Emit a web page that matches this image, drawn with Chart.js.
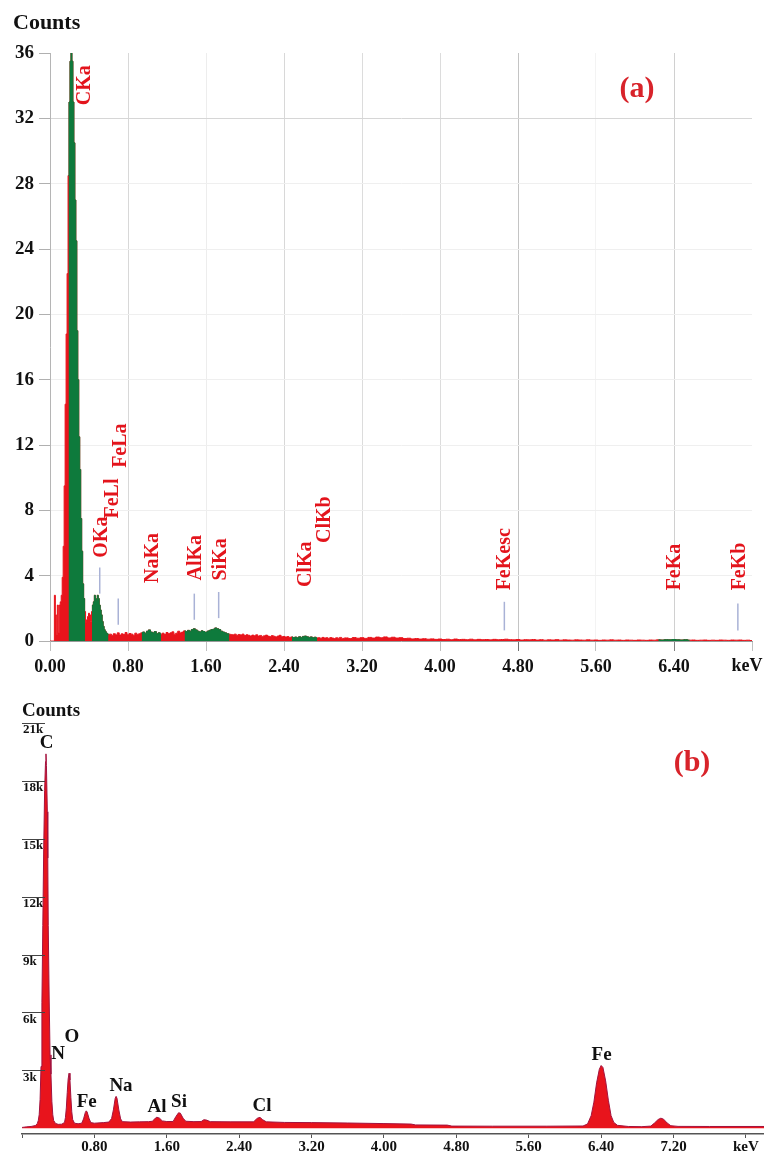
<!DOCTYPE html>
<html><head><meta charset="utf-8">
<script src="https://cdn.jsdelivr.net/npm/chart.js@4.4.1/dist/chart.umd.min.js"></script>
<style>
html,body{margin:0;padding:0;background:#fff;}
#wrapA{position:absolute;left:0;top:0;width:764px;height:690px;}
#wrapB{position:absolute;left:0;top:690px;width:764px;height:464px;}
</style></head><body>
<div id="wrapA"><canvas id="chartA"></canvas></div>
<div id="wrapB"><canvas id="chartB"></canvas></div>
<script>
// ---------- spectrum (a) ----------
const aLowStart = 0.00, aLowStep = 0.01;
const aLowCounts = [0,0,0,0,0, 2.8,1.6,0.4,2.2,0.5, 2.2,2.4,2.8,3.9,5.8, 9.5,14.5,18.8,22.5,28.5,
  33.0,35.5,36.0,35.5,33.0, 30.5,27.0,24.5,19.0,16.0, 12.5,10.5,7.5,5.5,3.5, 2.6,1.8,1.1,1.3,1.5,
  1.7,1.6,1.2,1.8,2.2, 2.4,2.8,2.6,2.5,2.8, 2.6,2.2,1.9,1.6,1.2, 0.9,0.7,0.6,0.5,0.45, 0.4];
const aMidStart = 0.62, aMidStep = 0.02;
const aMidCounts = [0.42,0.35,0.45,0.38,0.5,0.36,0.44,0.4,0.52,0.38,
  0.46,0.42,0.35,0.48,0.4,0.45,0.5,0.55,0.48,0.6,
  0.68,0.55,0.5,0.58,0.45,0.5,0.42,0.48,0.4,0.52,
  0.45,0.5,0.56,0.42,0.48,0.6,0.5,0.55,0.62,0.58,
  0.65,0.6,0.7,0.75,0.68,0.6,0.55,0.62,0.58,0.52,
  0.6,0.65,0.7,0.72,0.8,0.75,0.7,0.6,0.55,0.5,
  0.45,0.42,0.4,0.38,0.42,0.35,0.4,0.37,0.42,0.33,
  0.38,0.35,0.3,0.36,0.32,0.38,0.3,0.34,0.28,0.32,
  0.36,0.3,0.27,0.33,0.29,0.25,0.3,0.35,0.26,0.28,
  0.24,0.27,0.22,0.25,0.21,0.24,0.2,0.26,0.22,0.28,
  0.3,0.26,0.22,0.25,0.2,0.23,0.19,0.2,0.17,0.22,
  0.18,0.2,0.16,0.21,0.18,0.15,0.2,0.17,0.22,0.16];
const aHighStart = 3.04, aHighStep = 0.04;
const aHighCounts = [0.19,0.15,0.21,0.17,0.2,0.16,0.22,0.18,0.24,0.2,
  0.25,0.19,0.23,0.18,0.2,0.15,0.17,0.13,0.15,0.12,
  0.14,0.11,0.13,0.1,0.12,0.09,0.11,0.08,0.12,0.09,
  0.1,0.08,0.11,0.07,0.1,0.08,0.09,0.07,0.1,0.08,
  0.09,0.11,0.08,0.07,0.09,0.06,0.08,0.07,0.09,0.06,
  0.08,0.05,0.07,0.06,0.08,0.05,0.07,0.06,0.05,0.07,
  0.06,0.05,0.07,0.05,0.06,0.04,0.06,0.05,0.07,0.05,
  0.06,0.04,0.06,0.05,0.04,0.06,0.05,0.04,0.06,0.05,
  0.07,0.06,0.08,0.07,0.09,0.07,0.06,0.08,0.05,0.06,
  0.04,0.05,0.06,0.04,0.05,0.04,0.06,0.05,0.04,0.06,
  0.05,0.06,0.04,0.05,0.03];
const aGreenRanges = [[0.185,0.365],[0.425,0.615],[0.93,1.14],[1.365,1.85],[2.48,2.75],[6.23,6.58]];
const aXTicks = [0,0.8,1.6,2.4,3.2,4.0,4.8,5.6,6.4,7.2];
const aYTicks = [0,4,8,12,16,20,24,28,32,36];
const aPeakNames = ['CKa','OKa','FeLl','FeLa','NaKa','AlKa','SiKa','ClKa','ClKb','FeKesc','FeKa','FeKb'];
const aPeakKeV   = [0.354,0.53,0.64,0.73,1.05,1.50,1.75,2.62,2.82,4.67,6.41,7.08];
const aPeakBase  = [32.8,5.1,7.5,10.6,3.55,3.7,3.7,3.3,6.0,3.1,3.1,3.1];
const aMarkerKeV  = [0.51,0.70,1.48,1.73,4.66,7.055];
const aMarkerLow  = [2.9,1.0,1.3,1.4,0.65,0.65];
const aMarkerHigh = [4.5,2.6,2.9,3.0,2.4,2.3];

// ---------- spectrum (b) ----------
const bKeV = [0.00,0.05,0.10,0.15,0.17,0.18,0.19,0.20,0.21,0.22,0.23,0.24,0.25,0.26,0.265,0.27,0.28,0.285,0.29,0.30,
  0.31,0.32,0.33,0.34,0.35,0.37,0.40,0.44,0.47,0.48,0.49,0.50,0.51,0.52,0.53,0.54,0.55,0.56,0.58,0.62,
  0.66,0.68,0.70,0.71,0.72,0.74,0.76,0.80,0.90,0.96,0.99,1.01,1.03,1.04,1.05,1.07,1.09,1.11,1.20,1.30,
  1.40,1.44,1.47,1.49,1.52,1.55,1.60,1.67,1.70,1.73,1.75,1.78,1.81,1.90,1.98,2.01,2.04,2.08,2.30,2.56,
  2.60,2.63,2.66,2.70,2.90,3.20,3.60,4.00,4.30,4.35,4.70,4.75,5.20,5.80,6.20,6.25,6.29,6.32,6.35,6.38,
  6.40,6.42,6.45,6.48,6.51,6.54,6.58,6.70,6.85,6.95,6.99,7.03,7.06,7.09,7.13,7.17,7.25,7.60,8.20];
const bCounts = [40,70,90,140,250,400,700,1500,3200,6500,10500,14500,17500,19000,19400,18800,16400,14000,10500,6800,
  3800,2800,1400,700,400,250,200,210,300,550,1050,1850,2550,2850,2500,1600,850,450,260,230,
  260,480,820,900,840,520,290,260,290,320,500,950,1550,1650,1550,950,480,340,320,330,
  340,360,500,570,520,380,345,350,600,800,780,520,360,340,345,440,420,340,330,330,
  520,560,440,330,300,290,270,240,215,170,160,110,105,105,115,220,650,1350,2350,3050,
  3250,3150,2450,1450,650,300,150,90,80,110,270,450,520,470,270,130,95,90,90];
const bXTicks = [0,0.8,1.6,2.4,3.2,4.0,4.8,5.6,6.4,7.2,8.0];
const bYTicks = [3000,6000,9000,12000,15000,18000,21000];
const bPeakNames = ['C','N','O','Fe','Na','Al','Si','Cl','Fe'];
const bPeakKeV   = [0.273,0.398,0.552,0.715,1.094,1.492,1.735,2.652,6.405];
const bPeakLevel = [19950,3840,4720,1360,2190,1100,1360,1150,3790];

// ---------- build ----------
const SERIF = "'Liberation Serif','Times New Roman',serif";
function seg(start, step, arr){ return arr.map((v,i)=>({x:+(start+i*step).toFixed(3), y:v})); }
const aPoints = seg(aLowStart,aLowStep,aLowCounts).concat(seg(aMidStart,aMidStep,aMidCounts), seg(aHighStart,aHighStep,aHighCounts));
const inGreen = x => aGreenRanges.some(r => x>=r[0] && x<=r[1]);
const aGreenPoints = aPoints.map(p => ({x:p.x, y: inGreen(p.x) ? p.y : null}));
const bPoints = bKeV.map((k,i)=>({x:k, y:bCounts[i]}));

const aXGrid = {0.8:'#d8d8d8',1.6:'#ededed',2.4:'#d8d8d8',3.2:'#dcdcdc',4.0:'#dcdcdc',4.8:'#c4c4c4',5.6:'#f3f3f3',6.4:'#d0d0d0'};
const aXTickCol = {4.8:'#707070',6.4:'#808080'};

const aAnnot = {
  id:'aAnnot',
  afterDatasetsDraw(chart){
    const {ctx, scales:{x,y}} = chart;
    ctx.save();
    ctx.strokeStyle='#a9b2d6'; ctx.lineWidth=1.5;
    aMarkerKeV.forEach((k,i)=>{
      const px = x.getPixelForValue(k);
      ctx.beginPath(); ctx.moveTo(px, y.getPixelForValue(aMarkerLow[i])); ctx.lineTo(px, y.getPixelForValue(aMarkerHigh[i])); ctx.stroke();
    });
    ctx.fillStyle='#e3141c'; ctx.font='bold 20px '+SERIF; ctx.textAlign='left'; ctx.textBaseline='middle';
    aPeakNames.forEach((n,i)=>{
      ctx.save();
      ctx.translate(x.getPixelForValue(aPeakKeV[i]), y.getPixelForValue(aPeakBase[i]));
      ctx.rotate(-Math.PI/2);
      ctx.fillText(n,0,0);
      ctx.restore();
    });
    ctx.fillStyle='#111'; ctx.font='bold 22px '+SERIF; ctx.textAlign='left';
    ctx.fillText('Counts', 13, 23);
    ctx.fillStyle='#d8232a'; ctx.font='bold 30px '+SERIF; ctx.textAlign='center';
    ctx.fillText('(a)', 637, 89);
    ctx.fillStyle='#111'; ctx.font='bold 18px '+SERIF;
    ctx.fillText('keV', 747, 666);
    ctx.restore();
  }
};

new Chart(document.getElementById('chartA'), {
  type:'line',
  data:{datasets:[
    {data:aGreenPoints, order:0, stepped:'middle', fill:'origin', backgroundColor:'#0e7a3c', borderColor:'#0e7a3c', borderWidth:1, pointRadius:0, spanGaps:false},
    {data:aPoints, order:1, stepped:'middle', fill:'origin', backgroundColor:'#e8141c', borderColor:'#e8141c', borderWidth:1, pointRadius:0}
  ]},
  options:{
    responsive:true, maintainAspectRatio:false, animation:false, devicePixelRatio:1,
    layout:{padding:{top:53,right:12,left:0,bottom:0}},
    plugins:{legend:{display:false}, tooltip:{enabled:false}},
    scales:{
      x:{type:'linear', min:0, max:7.2,
        afterBuildTicks:s=>{ s.ticks = aXTicks.map(v=>({value:v})); },
        afterFit:s=>{ s.height=49; s.paddingLeft=0; s.paddingRight=0; },
        grid:{ color:c=> aXGrid[c.tick && c.tick.value] || 'rgba(0,0,0,0)', tickLength:10,
               tickColor:c=> aXTickCol[c.tick && c.tick.value] || '#c0c0c0', lineWidth:1 },
        border:{display:true, color:'#9a9a9a', width:1},
        ticks:{autoSkip:false, maxRotation:0, padding:6, color:'#111',
               font:{family:SERIF, size:18, weight:'bold'},
               callback:v=> v>7.19 ? '' : v.toFixed(2)}
      },
      y:{min:0, max:36,
        afterBuildTicks:s=>{ s.ticks = aYTicks.map(v=>({value:v})); },
        afterFit:s=>{ s.width=50; s.paddingTop=0; s.paddingBottom=0; },
        grid:{ color:c=>{ const v=c.tick && c.tick.value; return v===36?'rgba(0,0,0,0)':(v===32?'#d6d6d6':'#efefef'); },
               tickLength:11, tickColor:'#b0b0b0' },
        border:{display:true, color:'#b5b5b5', width:1},
        ticks:{padding:5, color:'#111', font:{family:SERIF, size:19, weight:'bold'}}
      }
    }
  },
  plugins:[aAnnot]
});

const bAnnot = {
  id:'bAnnot',
  afterDatasetsDraw(chart){
    const {ctx, scales:{x,y}, chartArea} = chart;
    ctx.save();
    ctx.strokeStyle='#444'; ctx.lineWidth=1;
    bYTicks.forEach(v=>{
      const py = Math.round(y.getPixelForValue(v))+0.5;
      ctx.beginPath(); ctx.moveTo(chartArea.left, py); ctx.lineTo(chartArea.left+23, py); ctx.stroke();
    });
    ctx.fillStyle='#111'; ctx.font='bold 19px '+SERIF; ctx.textAlign='center'; ctx.textBaseline='middle';
    bPeakNames.forEach((n,i)=>{
      ctx.fillText(n, x.getPixelForValue(bPeakKeV[i]), y.getPixelForValue(bPeakLevel[i]));
    });
    ctx.textAlign='left';
    ctx.fillText('Counts', 22, 21);
    ctx.fillStyle='#d8232a'; ctx.font='bold 30px '+SERIF; ctx.textAlign='center';
    ctx.fillText('(b)', 692, 73);
    ctx.restore();
  }
};

new Chart(document.getElementById('chartB'), {
  type:'line',
  data:{datasets:[
    {data:bPoints, fill:'origin', backgroundColor:'#e8141c', borderColor:'#a3123e', borderWidth:1, pointRadius:0, tension:0}
  ]},
  options:{
    responsive:true, maintainAspectRatio:false, animation:false, devicePixelRatio:1,
    layout:{padding:{top:33,right:0,left:0,bottom:0}},
    plugins:{legend:{display:false}, tooltip:{enabled:false}},
    scales:{
      x:{type:'linear', min:0, max:8.2,
        afterBuildTicks:s=>{ s.ticks = bXTicks.map(v=>({value:v})); },
        afterFit:s=>{ s.height=20; s.paddingLeft=0; s.paddingRight=0; },
        grid:{drawOnChartArea:false, tickLength:4, color:'#555'},
        border:{display:true, color:'#555', width:1.5},
        ticks:{autoSkip:false, maxRotation:0, padding:0, color:'#111',
               font:{family:SERIF, size:15, weight:'bold'},
               callback:v=> v===0 ? '' : (v>7.99 ? 'keV' : v.toFixed(2))}
      },
      y:{min:-300, max:21000,
        afterBuildTicks:s=>{ s.ticks = bYTicks.map(v=>({value:v})); },
        afterFit:s=>{ s.width=22; s.paddingTop=0; s.paddingBottom=0; },
        grid:{display:false},
        border:{display:false},
        ticks:{mirror:true, padding:1, labelOffset:7, color:'#111',
               font:{family:SERIF, size:13, weight:'bold'},
               callback:v=> (v/1000)+'k'}
      }
    }
  },
  plugins:[bAnnot]
});
</script>
</body></html>
